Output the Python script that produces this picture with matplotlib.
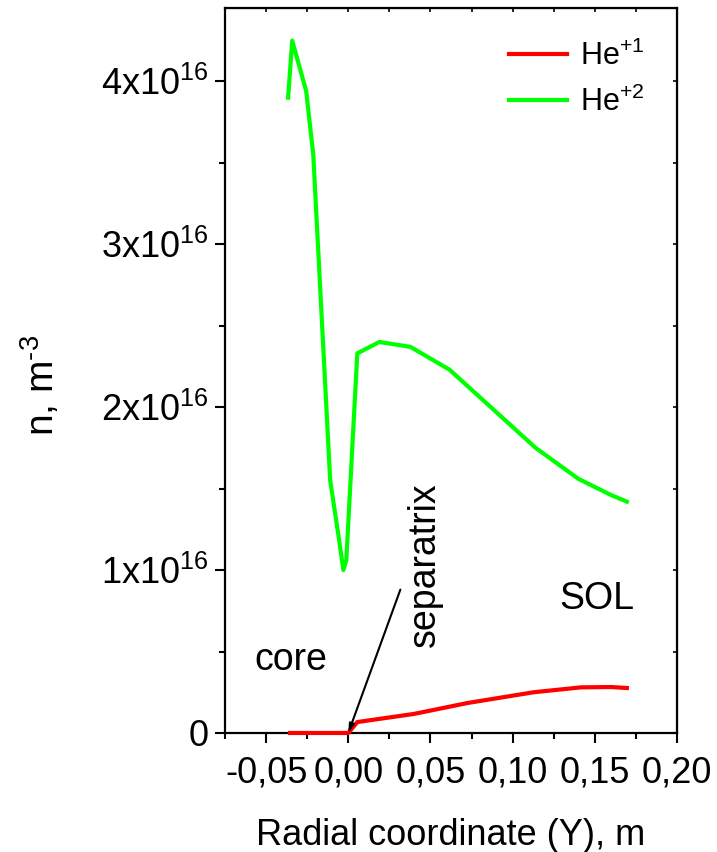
import matplotlib
matplotlib.use("Agg")
import matplotlib.pyplot as plt
from matplotlib.ticker import MultipleLocator, FuncFormatter

plt.rcParams["font.family"] = ["Liberation Sans", "DejaVu Sans"]
plt.rcParams["mathtext.fontset"] = "custom"
plt.rcParams["mathtext.rm"] = "Liberation Sans"
plt.rcParams["mathtext.it"] = "Liberation Sans:italic"
plt.rcParams["mathtext.default"] = "regular"

# radial profiles, Y in m, density in units of 1e16 m^-3
y_he1 = [-0.0354, -0.02, -0.01, 0.0, 0.0055, 0.040, 0.0726, 0.1128, 0.1415, 0.160, 0.1695]
n_he1 = [0.0, 0.0, 0.0, 0.0, 0.067, 0.117, 0.184, 0.250, 0.280, 0.282, 0.276]

y_he2 = [-0.0366, -0.0341, -0.0256, -0.0213, -0.0110, -0.0055, -0.0030, -0.0012,
         0.0055, 0.0189, 0.0378, 0.0616, 0.114, 0.140, 0.160, 0.1695]
n_he2 = [3.90, 4.25, 3.94, 3.55, 1.55, 1.18, 1.00, 1.06,
         2.33, 2.40, 2.37, 2.23, 1.75, 1.56, 1.46, 1.42]

scale = 1e16

fig = plt.figure(figsize=(7.17, 8.52), dpi=100)
ax = fig.add_axes([0.3138, 0.1397, 0.6304, 0.8509])

ax.plot(y_he1, [v * scale for v in n_he1], color="#ff0000", lw=3.0,
        label="He$^{+1}$", zorder=3, clip_on=False)
ax.plot(y_he2, [v * scale for v in n_he2], color="#00ff00", lw=3.0,
        label="He$^{+2}$", zorder=3)

ax.set_xlim(-0.075, 0.20)
ax.set_ylim(0, 4.45e16)

ax.xaxis.set_major_locator(MultipleLocator(0.05))
ax.xaxis.set_minor_locator(MultipleLocator(0.025))
ax.yaxis.set_major_locator(MultipleLocator(1e16))
ax.yaxis.set_minor_locator(MultipleLocator(0.5e16))

ax.xaxis.set_major_formatter(FuncFormatter(lambda v, p: f"{v:.2f}".replace(".", ",")))

def ylab(v, p):
    k = int(round(v / scale))
    return "0" if k == 0 else f"{k}x10$^{{16}}$"

ax.yaxis.set_major_formatter(FuncFormatter(ylab))

ax.tick_params(which="major", direction="out", length=7, width=1.5, labelsize=26)
ax.tick_params(axis="x", which="major", pad=9)
ax.tick_params(axis="y", which="major", pad=5)
ax.tick_params(which="minor", direction="out", length=4, width=1.5)
for s in ax.spines.values():
    s.set_linewidth(1.6)

# inward ticks on top and right
top = ax.secondary_xaxis("top")
top.xaxis.set_major_locator(MultipleLocator(0.05))
top.xaxis.set_minor_locator(MultipleLocator(0.025))
top.tick_params(which="both", direction="in", length=3, width=1.2, labeltop=False)
right = ax.secondary_yaxis("right")
right.yaxis.set_major_locator(MultipleLocator(1e16))
right.yaxis.set_minor_locator(MultipleLocator(0.5e16))
right.tick_params(which="both", direction="in", length=3, width=1.2, labelright=False)

ax.set_xlabel("Radial coordinate (Y), m", fontsize=26, labelpad=20)
ax.set_ylabel(r"n, m$^{\text{-3}}$", fontsize=28, labelpad=28)
ax.yaxis.set_label_coords(-0.36, 0.48)

ax.text(-0.035, 0.45e16, "core", fontsize=27, ha="center", va="center")
ax.text(0.0465, 1.03e16, "separatrix", fontsize=27, rotation=90, ha="center", va="center")
ax.text(0.151, 0.82e16, "SOL", fontsize=27, ha="center", va="center")
ax.annotate("", xy=(0.0, 0.0), xytext=(0.0317, 0.88e16),
            arrowprops=dict(arrowstyle="-|>,head_length=0.5,head_width=0.15",
                            color="black", lw=1.5, shrinkA=0, shrinkB=0))

ax.legend(loc="upper right", fontsize=22, frameon=False, handlelength=1.9,
          handletextpad=0.4, labelspacing=0.5, borderaxespad=0.3,
          bbox_to_anchor=(0.975, 0.985))

fig.savefig("out.png", dpi=100)
